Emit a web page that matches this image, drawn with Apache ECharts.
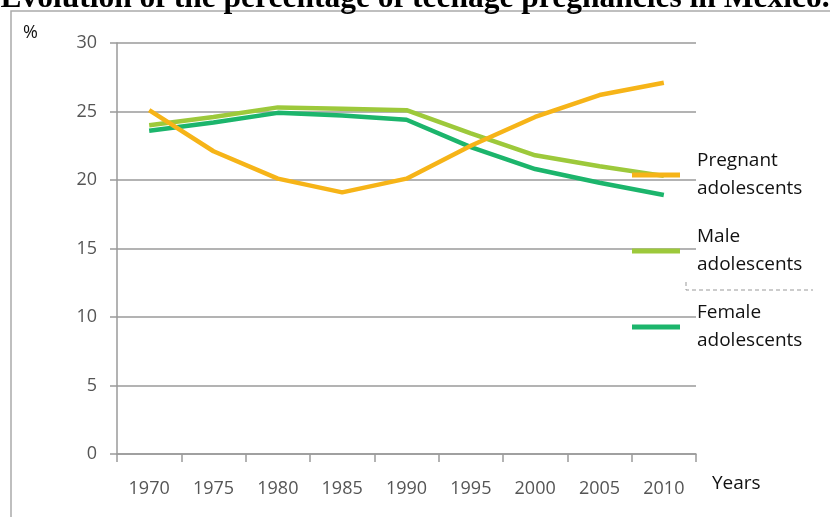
<!DOCTYPE html>
<html>
<head>
<meta charset="utf-8">
<script src="https://cdn.jsdelivr.net/npm/echarts@6/dist/echarts.min.js"></script>
<style>html,body{margin:0;padding:0;background:#fff}#c{width:830px;height:517px}</style>
</head>
<body>
<div id="c"></div>
<script>
const titleText = 'Evolution of the percentage of teenage pregnancies in Mexico.';
const years = ['1970','1975','1980','1985','1990','1995','2000','2005','2010'];
const pregnant = [25.1, 22.1, 20.1, 19.1, 20.1, 22.5, 24.6, 26.2, 27.1];
const male = [24.0, 24.6, 25.3, 25.2, 25.1, 23.4, 21.8, 21.0, 20.3];
const female = [23.6, 24.2, 24.9, 24.7, 24.4, 22.4, 20.8, 19.8, 18.9];
const seriesNames = ['Pregnant adolescents', 'Male adolescents', 'Female adolescents'];
const colors = ['#F6B418', '#9DC93B', '#1CB56C'];

const chart = echarts.init(document.getElementById('c'), null, {renderer: 'canvas'});
const legendFont = {fontFamily: 'Open Sans', fontSize: 19, color: '#111', lineHeight: 28};
function legendFor(name, top, padTop) {
  return {
    data: [name], left: 632, top: top, padding: 0, itemWidth: 48, itemHeight: 5,
    icon: 'rect', selectedMode: false,
    formatter: n => n.replace(' ', '\n'),
    textStyle: Object.assign({padding: [padTop, 0, 0, 12]}, legendFont)
  };
}
chart.setOption({
  animation: false,
  backgroundColor: '#fff',
  title: {
    text: titleText, left: 'center', top: -17, padding: 0,
    textStyle: {fontFamily: 'Liberation Serif', fontWeight: 'bold', fontSize: 31.5, color: '#000'}
  },
  graphic: [
    {type: 'rect', shape: {x: 11, y: 11, width: 900, height: 600}, style: {fill: 'none', stroke: '#aaa', lineWidth: 1.5}, z: -1},
    {type: 'text', left: 23, top: 24, style: {text: '%', fontFamily: 'Open Sans', fontSize: 18, fill: '#111'}},
    {type: 'polyline', shape: {points: [[686, 282], [686, 290], [813, 290]]}, style: {stroke: '#999', lineWidth: 1, lineDash: [4, 3], fill: 'none'}}
  ],
  legend: [
    legendFor(seriesNames[0], 147, 0),
    legendFor(seriesNames[1], 216, 14),
    legendFor(seriesNames[2], 287, 24)
  ],
  grid: {left: 117, right: 134, top: 43, bottom: 63, containLabel: false},
  xAxis: {
    type: 'category', data: years, boundaryGap: true,
    name: 'Years', nameLocation: 'end', nameGap: 16,
    nameTextStyle: {fontFamily: 'Open Sans', fontSize: 19, color: '#111', align: 'left', verticalAlign: 'top', padding: [20, 0, 0, 0]},
    axisLine: {lineStyle: {color: '#9a9a9a', width: 1.5}},
    axisTick: {show: true, length: 8, alignWithLabel: false, lineStyle: {color: '#9a9a9a', width: 1.5}},
    axisLabel: {margin: 26, fontFamily: 'Open Sans', fontSize: 18, color: '#555'},
    splitLine: {show: false}
  },
  yAxis: {
    type: 'value', min: 0, max: 30, interval: 5,
    axisLine: {show: true, lineStyle: {color: '#9a9a9a', width: 1.5}},
    axisTick: {show: true, length: 7, lineStyle: {color: '#9a9a9a', width: 1.5}},
    axisLabel: {margin: 20, fontFamily: 'Open Sans', fontSize: 18, color: '#555'},
    splitLine: {show: true, lineStyle: {color: '#9a9a9a', width: 1.5}}
  },
  series: [
    {name: seriesNames[1], type: 'line', data: male, symbol: 'none', lineStyle: {color: colors[1], width: 4.5}, itemStyle: {color: colors[1]}},
    {name: seriesNames[2], type: 'line', data: female, symbol: 'none', lineStyle: {color: colors[2], width: 4.5}, itemStyle: {color: colors[2]}},
    {name: seriesNames[0], type: 'line', data: pregnant, symbol: 'none', lineStyle: {color: colors[0], width: 4.5}, itemStyle: {color: colors[0]}}
  ]
});
</script>
</body>
</html>
